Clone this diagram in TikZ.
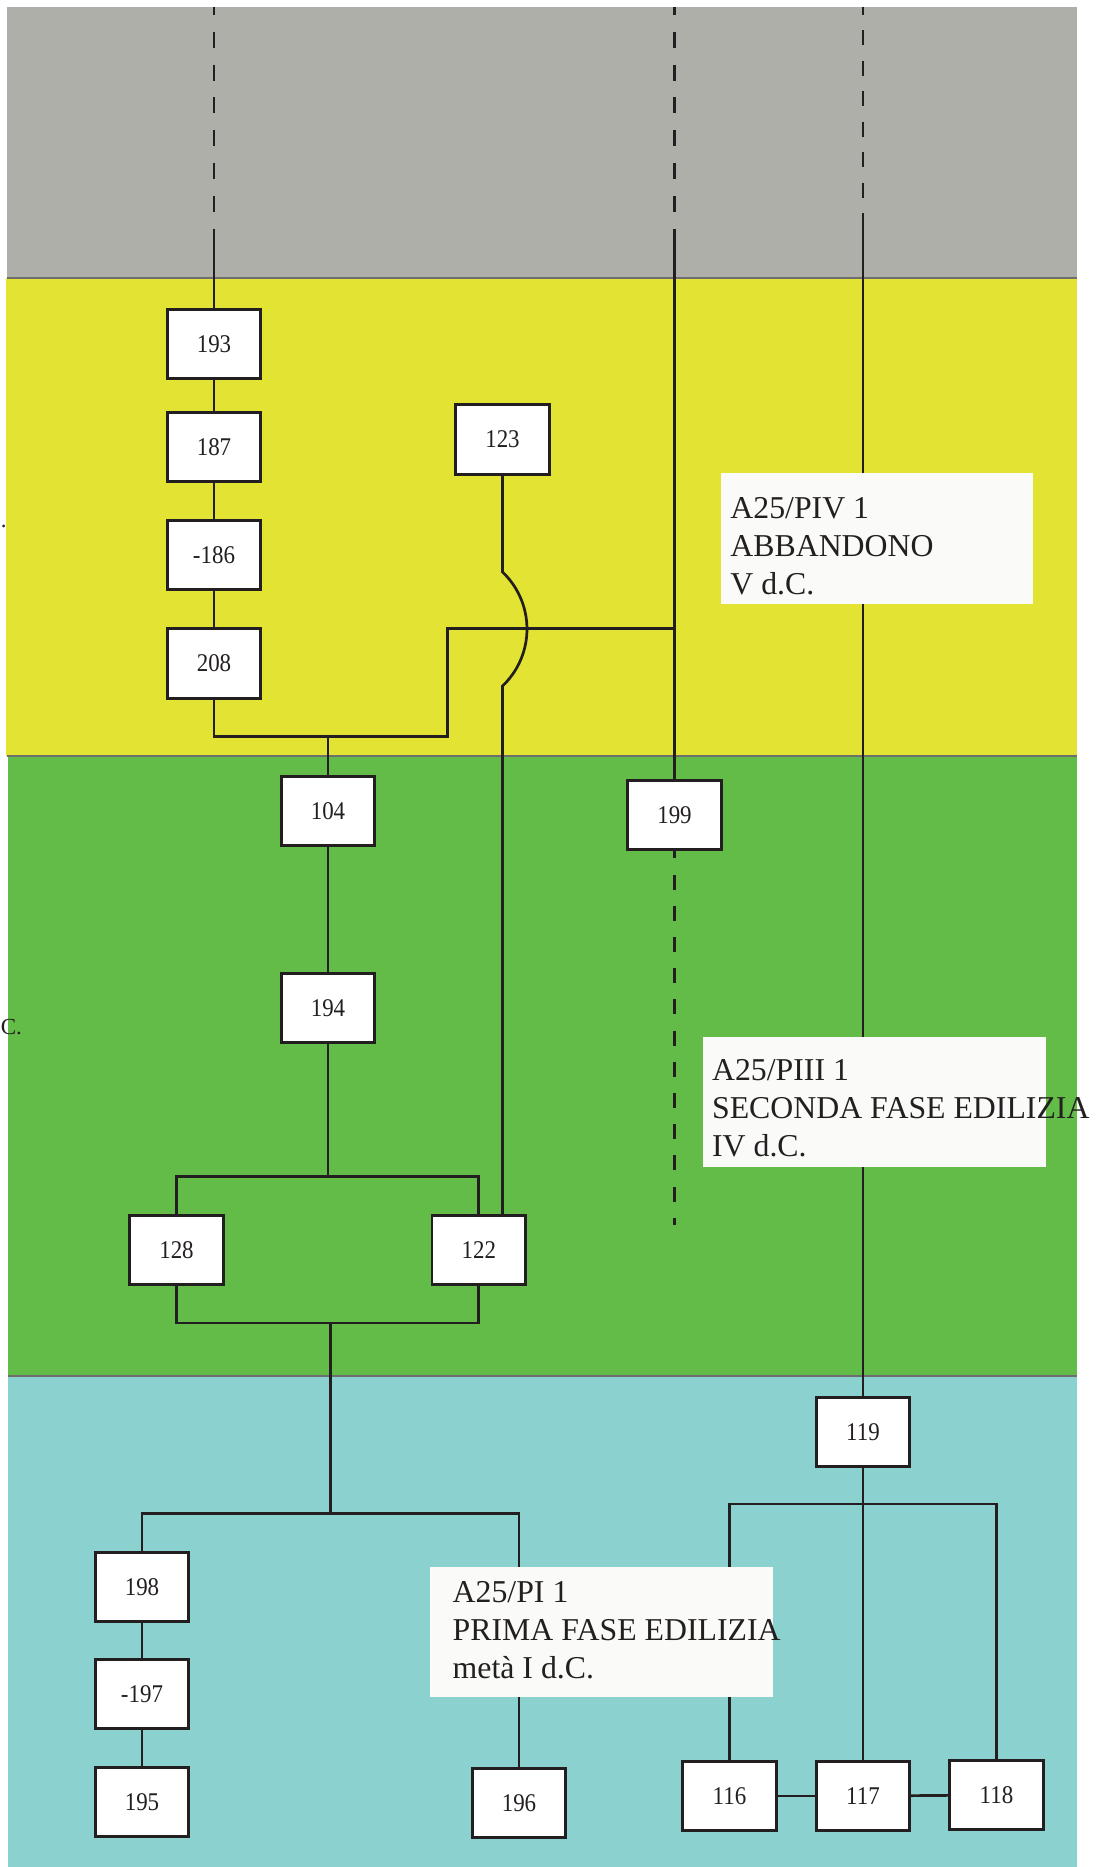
\documentclass[tikz,border=0pt]{standalone}
\usepackage{fontspec}
\setmainfont{Liberation Serif}
\newfontfamily\unitfont[FakeStretch=0.9]{Liberation Serif}

\definecolor{bandgray}{RGB}{174,175,169}
\definecolor{bandyellow}{RGB}{226,227,51}
\definecolor{bandgreen}{RGB}{99,188,71}
\definecolor{bandblue}{RGB}{138,209,208}
\definecolor{phasefill}{RGB}{250,250,248}
\definecolor{ink}{RGB}{35,31,32}
\definecolor{edgegray}{RGB}{110,110,110}

\tikzset{
  every node/.style={inner sep=0pt,text=ink},
  unit/.style={draw=ink,fill=white,line width=1.35pt,minimum width=46.7pt,
    minimum height=34.7pt,font=\unitfont\fontsize{12.75}{14}\selectfont},
  phase/.style={fill=phasefill,minimum height=65.3pt},
  phasetext/.style={align=left,anchor=north west,font=\fontsize{15.9}{19}\selectfont},
  cutnote/.style={anchor=base west,font=\fontsize{11.5}{13}\selectfont},
  link/.style={draw=ink,line width=1.35pt},
  dashtop/.style={link,dash pattern=on 8pt off 8.4pt,dash phase=3.85pt},
  dashtopb/.style={link,dash pattern=on 7.5pt off 7.75pt,dash phase=3.35pt},
  dashlow/.style={link,dash pattern=on 7.5pt off 8.1pt,dash phase=3.85pt},
  bandedge/.style={draw=edgegray,line width=0.9pt}
}

\begin{document}
\begin{tikzpicture}[x=0.5pt,y=-0.5pt]
  \useasboundingbox (0,0) rectangle (1101,1867);

  % bands
  \fill[bandgray] (7,6.7) rectangle (1077,278.3);
  \fill[bandyellow] (6,278.3) rectangle (1077,756);
  \fill[bandgreen] (8,756) rectangle (1077,1375.7);
  \fill[bandblue] (8,1375.7) rectangle (1077,1867);
  \draw[bandedge] (7,278.3) -- (1077,278.3);
  \draw[bandedge] (7,756) -- (1077,756);
  \draw[bandedge] (8,1375.7) -- (1077,1375.7);

  \node[cutnote] (cuta) at (0.5,527) {.};
  \node[cutnote] (cutb) at (0.5,1034.5) {C.};

  % units
  \node[unit] (n193) at (214,344) {193};
  \node[unit] (n187) at (214,447) {187};
  \node[unit] (n186) at (214,555) {-186};
  \node[unit] (n208) at (214,663.5) {208};
  \node[unit] (n123) at (502.5,439.5) {123};
  \node[unit] (n104) at (328,811) {104};
  \node[unit] (n199) at (674.5,815) {199};
  \node[unit] (n194) at (328,1008) {194};
  \node[unit] (n128) at (176.5,1250) {128};
  \node[unit] (n122) at (478.8,1250) {122};
  \node[unit] (n119) at (863,1432) {119};
  \node[unit] (n198) at (142,1587) {198};
  \node[unit] (n197) at (142,1694) {-197};
  \node[unit] (n195) at (142,1802) {195};
  \node[unit] (n196) at (519,1803) {196};
  \node[unit] (n116) at (729.5,1796) {116};
  \node[unit] (n117) at (863,1796) {117};
  \node[unit] (n118) at (996.5,1795) {118};

  \coordinate (t193) at (214,6.7);
  \coordinate (s193) at (214,229);
  \coordinate (t199) at (674.5,6.7);
  \coordinate (s199) at (674.5,229);
  \coordinate (t119) at (863,6.7);
  \coordinate (s119) at (863,213.7);
  \coordinate (e199) at (674.5,1225);
  \coordinate (ja) at (447.5,736.7);
  \coordinate (jb) at (447.5,628.7);
  \coordinate (jc) at (674.5,628.7);
  \coordinate (h1) at (502.5,572);
  \coordinate (k1) at (328,1176.7);
  \coordinate (k2) at (330.3,1323);
  \coordinate (k3) at (330.3,1513.3);
  \coordinate (k4) at (863,1504);

  \draw[dashtop] (t193) -- (s193);
  \draw[dashtop] (t199) -- (s199);
  \draw[dashtopb] (t119) -- (s119);
  \draw[dashlow] (n199.south) -- (e199);

  \draw[link] (s193) -- (n193);
  \draw[link] (s199) -- (n199);
  \draw[link] (s119) -- (n119);

  \foreach \from/\to in {n193/n187,n187/n186,n186/n208,n104/n194,n194/k1,
      n198/n197,n197/n195,n119/n117,n116/n117,n117/n118,k2/k3}
    \draw[link] (\from) -- (\to);

  \draw[link] (n208) |- (ja) -- (jb) -- (jc);
  \draw[link] (n104) -- (n104 |- ja);
  \draw[link] (n123) -- (h1) arc[start angle=-46.5,end angle=46.5,radius=78.6]
    -- (n122.north -| h1);
  \draw[link] (n128) |- (k1) -| (n122);
  \draw[link] (n128) |- (k2) -| (n122);
  \draw[link] (n198) |- (k3) -| (n196);
  \draw[link] (n116) |- (k4) -| (n118);

  % phases
  \node[phase,minimum width=156pt] (piv) at (877,538.5) {};
  \node[phasetext] (pivtext) at (730,497.5) {A25/PIV 1\\ABBANDONO\\V d.C.};
  \node[phase,minimum width=171.65pt] (piii) at (874.35,1102) {};
  \node[phasetext] (piiitext) at (711.7,1059.5) {A25/PIII 1\\SECONDA FASE EDILIZIA\\IV d.C.};
  \node[phase,minimum width=171.35pt] (pi) at (601.35,1631.85) {};
  \node[phasetext] (pitext) at (452.3,1581.5) {A25/PI 1\\PRIMA FASE EDILIZIA\\metà I d.C.};
\end{tikzpicture}
\end{document}
